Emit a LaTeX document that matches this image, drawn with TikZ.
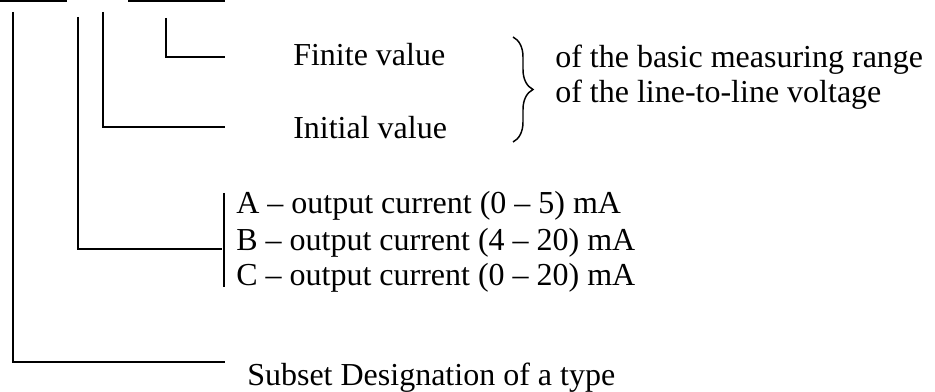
\documentclass[tikz,border=0pt]{standalone}
\usepackage{fontspec}
\setmainfont{Liberation Serif}
\usetikzlibrary{decorations.pathreplacing}

\tikzset{
  lbl/.style={anchor=base west, inner sep=0pt, font=\fontsize{24}{28}\selectfont},
  leg/.style={line width=1.4pt},
}

\begin{document}
\begin{tikzpicture}[x=0.75pt, y=-0.75pt]
\useasboundingbox (0,0) rectangle (935,392);

% cut-off underlines of the type code
\draw[leg] (0,0.9) -- (67,0.9);
\draw[leg] (128,0.9) -- (225,0.9);

% texts
\node[lbl] (finite)  at (293,66)  {Finite value};
\node[lbl] (initial) at (293,139) {Initial value};
\node[lbl] (basic)   at (555,68)  {of the basic measuring range};
\node[lbl] (voltage) at (555,103) {of the line-to-line voltage};
\node[lbl] (outA)    at (236,214) {A -- output current (0 -- 5) mA};
\node[lbl] (outB)    at (236,250) {B -- output current (4 -- 20) mA};
\node[lbl] (outC)    at (236,285) {C -- output current (0 -- 20) mA};
\node[lbl] (subset)  at (247,385) {Subset Designation of a type};

% leader lines
\coordinate (fTop) at (166,18);
\coordinate (fEnd) at (225,57);
\coordinate (iTop) at (103,12);
\coordinate (iEnd) at (225,127);
\coordinate (oTop) at (78,17);
\coordinate (oEnd) at (222,249);
\coordinate (sTop) at (13,12);
\coordinate (sEnd) at (225,362);
\draw[leg] (fTop) |- (fEnd);
\draw[leg] (iTop) |- (iEnd);
\draw[leg] (oTop) |- (oEnd);
\draw[leg] (sTop) |- (sEnd);

% bar in front of A, B, C
\coordinate (barTop) at (224,193);
\coordinate (barBot) at (224,287);
\draw[leg] (barTop) -- (barBot);

% brace
\coordinate (brTop) at (513,37);
\coordinate (brBot) at (513,142);
\draw[line width=1.1pt, decorate, decoration={brace, amplitude=15pt}] (brTop) -- (brBot);

\end{tikzpicture}
\end{document}
